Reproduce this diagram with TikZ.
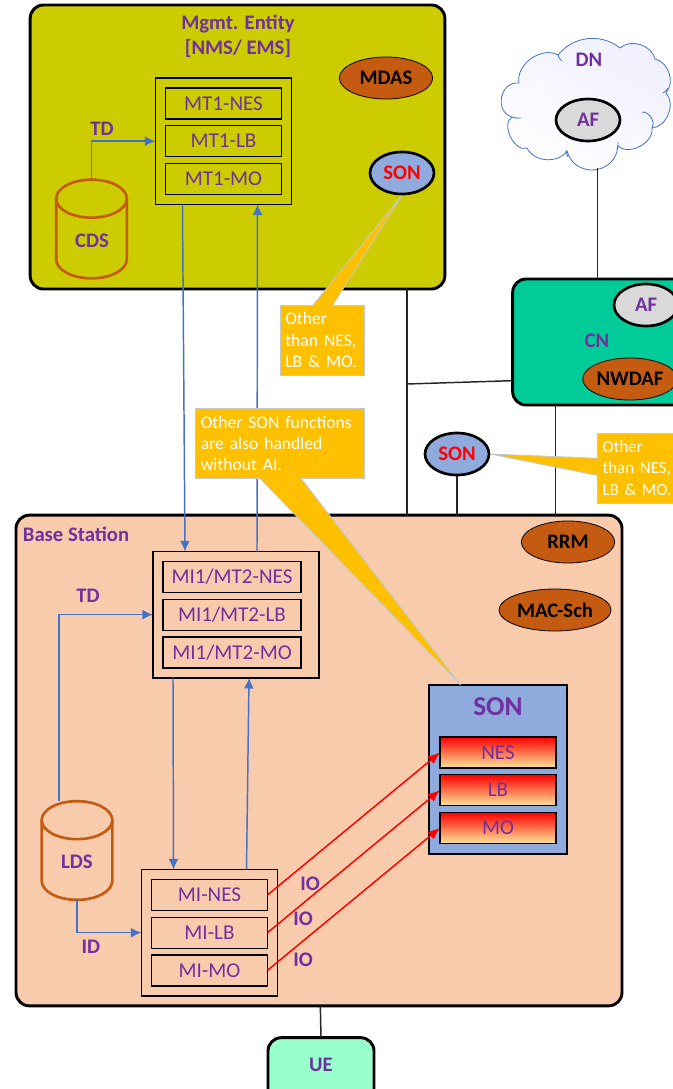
\documentclass[tikz,border=0pt]{standalone}
\usepackage{fontspec}
\setmainfont{Carlito}
\usetikzlibrary{arrows.meta,positioning,calc,fit,shapes.geometric}
\definecolor{mgmtcol}{HTML}{CCCC00}
\definecolor{basecol}{HTML}{F8CBAD}
\definecolor{cncol}{HTML}{00CC99}
\definecolor{uecol}{HTML}{99FFCC}
\definecolor{purp}{HTML}{7030A0}
\definecolor{rustcol}{HTML}{C55A11}
\definecolor{sonblue}{HTML}{8FAADC}
\definecolor{linkblue}{HTML}{4472C4}
\definecolor{notecol}{HTML}{FFC000}
\definecolor{notegrey}{HTML}{C8C8C8}
\definecolor{fngrey}{HTML}{D9D9D9}
\definecolor{paleyellow}{HTML}{FFE699}
\tikzset{
  entity/.style={draw, line width=2.2pt, rounded corners=10pt, outer sep=0pt},
  lbl/.style={font=\fontsize{15.5}{18.5}\selectfont\bfseries, text=purp, inner sep=0pt, align=center},
  itembox/.style={draw, line width=1pt, minimum width=87pt, minimum height=23.25pt, inner sep=0pt,
               outer sep=0pt, font=\fontsize{15.8}{16}\selectfont, text=purp},
  groupbox/.style={draw, line width=1pt, inner sep=7.5pt, outer sep=0pt},
  funcbox/.style={itembox, top color=red, bottom color=paleyellow},
  rustfn/.style={draw, line width=0.6pt, ellipse, fill=rustcol, inner sep=0pt, minimum height=31.5pt,
               font=\fontsize{15.5}{16}\selectfont\bfseries, text=black},
  sonfn/.style={draw, line width=2pt, ellipse, fill=sonblue, inner sep=0pt, minimum width=48pt,
               minimum height=31.5pt, font=\fontsize{15.5}{16}\selectfont\bfseries, text=red},
  affn/.style={sonfn, fill=fngrey, text=purp},
  store/.style={minimum width=53pt, minimum height=74pt, inner sep=0pt, outer sep=0pt},
  can/.style={draw=rustcol, line width=2pt},
  puff/.style={draw=linkblue, line width=0.6pt},
  flow/.style={-{Latex[length=8pt,width=7.5pt]}, line width=1.1pt, draw=linkblue},
  ioflow/.style={-{Latex[length=9pt,width=7.5pt]}, line width=1.1pt, draw=red},
  link/.style={line width=1.1pt, draw=black!85},
  note/.style={draw=notegrey, fill=notecol, line width=0.7pt, text=white, align=left, inner sep=0pt,
               outer sep=0pt, font=\fontsize{13.2}{16}\selectfont},
  notetail/.style={draw=notegrey, fill=notecol, line width=0.7pt},
}
\newcommand{\candraw}[1]{
  \draw[can] ([yshift=-14.25pt]#1.north west) arc[start angle=180, end angle=0, x radius=26.5pt, y radius=14.25pt]
    -- ([yshift=14.25pt]#1.south east) arc[start angle=0, end angle=-180, x radius=26.5pt, y radius=14.25pt] -- cycle;
  \draw[can] ([yshift=-14.25pt]#1.north west) arc[start angle=180, end angle=360, x radius=26.5pt, y radius=14.25pt];
}
\begin{document}
\begin{tikzpicture}[x=0.75pt, y=-0.75pt]
  \useasboundingbox (0,0) rectangle (672,1089);

  \node[entity, fill=mgmtcol, minimum width=311pt, minimum height=213pt] (mgmt) at (237.5,147) {};
  \node[lbl] (mgmtlbl) at (238,36) {Mgmt. Entity\\{[}NMS/ EMS{]}};
  \node[rustfn, minimum width=70pt] (mdas) at (386,78) {MDAS};
  \node[sonfn] (son1) at (402,173) {SON};
  \node[itembox] (mt1nes) at (223.5,103.5) {MT1-NES};
  \node[itembox, below=5pt of mt1nes] (mt1lb) {MT1-LB};
  \node[itembox, below=5pt of mt1lb] (mt1mo) {MT1-MO};
  \node[groupbox, fit=(mt1nes)(mt1mo)] (mt1box) {};
  \node[store] (cds) at (91.5,229) {};
  \candraw{cds}
  \node[lbl] (cdslbl) at (92,241) {CDS};
  \node[lbl] (tdtop) at (102,129) {TD};

  \node[entity, fill=basecol, minimum width=454.5pt, minimum height=368pt] (base) at (319,760.5) {};
  \node[lbl] (baselbl) at (76,534) {Base Station};
  \node[rustfn, minimum width=70pt] (rrm) at (568,542) {RRM};
  \node[rustfn, minimum width=84pt] (macsch) at (555,610) {MAC-Sch};
  \node[itembox, minimum width=103.5pt] (mines) at (232,577) {MI1/MT2-NES};
  \node[itembox, minimum width=103.5pt, below=5pt of mines] (milb) {MI1/MT2-LB};
  \node[itembox, minimum width=103.5pt, below=5pt of milb] (mimo) {MI1/MT2-MO};
  \coordinate (miedge) at (309,615);
  \node[groupbox, fit=(mines)(mimo)(miedge)] (mi1box) {};
  \node[itembox] (nes) at (209.5,895) {MI-NES};
  \node[itembox, below=5pt of nes] (lb) {MI-LB};
  \node[itembox, below=5pt of lb] (mo) {MI-MO};
  \node[groupbox, fit=(nes)(mo)] (mibox) {};
  \node[store] (lds) at (77,850.5) {};
  \candraw{lds}
  \node[lbl] (ldslbl) at (77,862) {LDS};
  \node[lbl] (tdbase) at (88,596) {TD};
  \node[lbl] (idlbl) at (91,947) {ID};
  \node[lbl] (io1) at (310,884) {IO};
  \node[lbl] (io2) at (303,919) {IO};
  \node[lbl] (io3) at (303,960) {IO};
  \node[draw, line width=2.2pt, fill=sonblue, minimum width=103.5pt, minimum height=126.75pt, outer sep=0pt] (sonbox) at (498,769.5) {};
  \node[lbl, font=\fontsize{20.5}{22}\selectfont\bfseries] (sonlbl) at (498,707) {SON};
  \node[funcbox] (fnes) at (498,752.5) {NES};
  \node[funcbox, below=5pt of fnes] (flb) {LB};
  \node[funcbox, below=5pt of flb] (fmo) {MO};

  \node[entity, fill=cncol, minimum width=140pt, minimum height=94.5pt] (cn) at (606,342) {};
  \node[affn] (afcn) at (646,305) {AF};
  \node[lbl] (cnlbl) at (597,341) {CN};
  \node[rustfn, minimum width=70pt] (nwdaf) at (630,379) {NWDAF};
  \node[minimum width=127pt, minimum height=96pt, inner sep=0pt, outer sep=0pt] (dn) at (590.5,104) {};
  \draw[puff, left color=blue!6, right color=white, shading angle=-30]
    (519,83) to[bend left=65] (558,55) to[bend left=45] (620,48) to[bend left=60] (655,59)
    to[bend left=60] (666,93) to[bend left=65] (652,128) to[bend left=70] (618,146)
    to[bend left=80, looseness=1.45] (567,151) to[bend left=60] (527,148) to[bend left=85] (512,117)
    to[bend left=85, looseness=1.4] (519,83) -- cycle;
  \draw[puff] (512,117) to[bend right=15] (521,118);
  \draw[puff] (558,55) to[bend right=15] (562,61);
  \draw[puff] (668,88) to[bend left=15] (663,93);
  \draw[puff] (642,112) to[bend left=60] (652,128);
  \draw[puff] (618,142) to[bend left=15] (617,149);
  \draw[puff] (566,150) to[bend right=15] (568,157);
  \node[affn] (afdn) at (588,120) {AF};
  \node[lbl] (dnlbl) at (589,60) {DN};
  \node[sonfn] (son2) at (457,454) {SON};
  \node[entity, fill=uecol, minimum width=79.5pt, minimum height=50pt] (ue) at (321,1071) {};
  \node[lbl] (uelbl) at (321,1065) {UE};

  \coordinate (junc) at (407,384);
  \draw[flow] (cds.north) |- (mt1box.west);
  \draw[flow] ([xshift=-30.75pt]mt1box.south) -- ([xshift=-38.25pt]mi1box.north);
  \draw[flow] ([xshift=15.75pt]mi1box.north) -- ([xshift=25.5pt]mt1box.south);
  \draw[flow] ([xshift=-13.5pt]lds.north) |- (mi1box.west);
  \draw[flow] (lds.south) |- (mibox.west);
  \draw[flow] ([xshift=-47.25pt]mi1box.south) -- ([xshift=-27pt]mibox.north);
  \draw[flow] ([xshift=27.75pt]mibox.north) -- ([xshift=9.75pt]mi1box.south);
  \draw[ioflow] (nes.east) -- (fnes.west);
  \draw[ioflow] (lb.east) -- (flb.west);
  \draw[ioflow] (mo.east) -- (fmo.west);
  \draw[link] ([xshift=127pt]mgmt.south) -- ([xshift=127pt]mgmt.south |- base.north);
  \draw[link] (junc) -- ([yshift=-29pt]cn.west);
  \draw[link] (son2.south) -- (son2.south |- base.north);
  \draw[link] ([xshift=-38pt]cn.south) -- ([xshift=-38pt]cn.south |- base.north);
  \draw[link] ([xshift=5.25pt]dn.south) -- ([xshift=5.25pt]dn.south |- cn.north);
  \draw[link] ([xshift=1pt]base.south) -- (ue.north);

  \node[note, minimum width=63pt, minimum height=52.5pt, text width=55pt] (note1) at (322,340) {Other\\than NES,\\LB \& MO.};
  \node[note, minimum width=126.75pt, minimum height=53pt, text width=118pt] (note2) at (279.5,443.5) {Other SON functions\\are also handled\\without AI.};
  \node[note, minimum width=70pt, minimum height=52.5pt, text width=62pt, font=\fontsize{12.7}{16}\selectfont] (note3) at (644,468) {Other\\than NES,\\LB \& MO.};
  \draw[notetail] ([xshift=24pt,yshift=-1pt]note1.north west) -- (son1.south) -- ([xshift=39pt,yshift=-1pt]note1.north west);
  \draw[notetail] ([xshift=48pt,yshift=1pt]note2.south west) -- ([xshift=-28pt]sonbox.north) -- ([xshift=79pt,yshift=1pt]note2.south west);
  \draw[notetail] ([xshift=1pt,yshift=-19pt]note3.north west) -- (son2.east) -- ([xshift=1pt,yshift=-32pt]note3.north west);
\end{tikzpicture}
\end{document}
